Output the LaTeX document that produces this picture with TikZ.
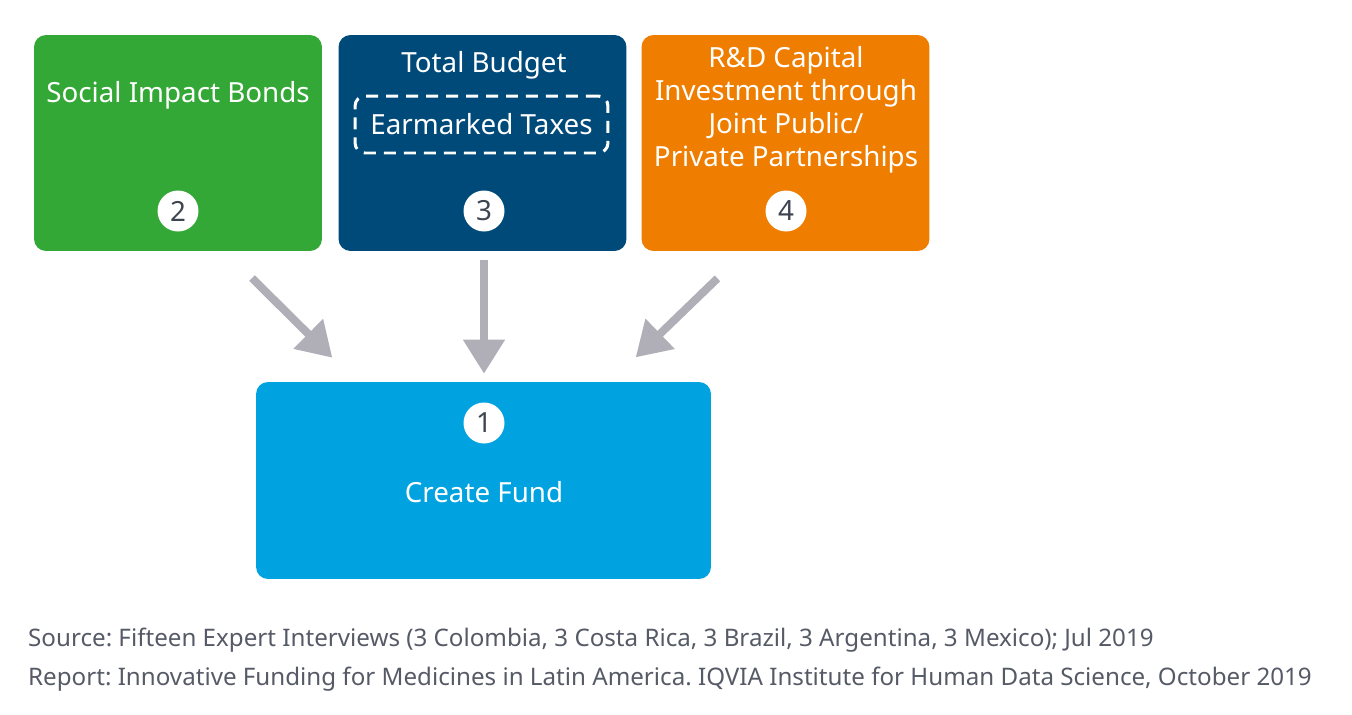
\documentclass[tikz,border=0pt]{standalone}
\usepackage{fontspec}
\setmainfont{Noto Sans}
\frenchspacing
\usetikzlibrary{arrows.meta,calc,positioning}

\definecolor{impactgreen}{HTML}{34A836}
\definecolor{budgetblue}{HTML}{004A7A}
\definecolor{rdorange}{HTML}{EF7D00}
\definecolor{fundcyan}{HTML}{00A3E0}
\definecolor{arrowgray}{HTML}{B0AFB8}
\definecolor{numbergray}{HTML}{3F4550}
\definecolor{sourcegray}{HTML}{555A66}

\begin{document}
\begin{tikzpicture}[x=0.02cm, y=-0.02cm]
        \tikzstyle{box} = [rectangle, rounded corners=0.24cm, minimum width=5.76cm, minimum height=4.32cm, inner sep=0pt]
        \tikzstyle{fund box} = [box, fill=fundcyan, minimum width=9.1cm, minimum height=3.94cm]
        \tikzstyle{label} = [text=white, align=center, font=\fontsize{15.8}{18.8}\selectfont]
        \tikzstyle{number} = [circle, fill=white, minimum size=0.82cm, inner sep=0pt, text=numbergray, font=\fontsize{15.8}{18}\selectfont]
        \tikzstyle{edge} = [draw=arrowgray, line width=0.16cm, -{Triangle[width=0.8cm, length=0.68cm]}]

        \path[use as bounding box] (0,0) rectangle (1352,714);

        \node[box, fill=impactgreen](b2) at(178, 143) {};
        \node[box, fill=budgetblue](b3) at(482.5, 143) {};
        \node[box, fill=rdorange](b4) at(785.5, 143) {};
        \node[fund box](fund) at(483.5, 480.5) {};

        \node[label](t2) at(178, 95) {Social Impact Bonds};
        \node[label](t3) at(484, 65) {Total Budget};
        \node[label, draw=white, line width=0.06cm, dash pattern=on 0.24cm off 0.16cm, rounded corners=0.2cm, minimum width=5.06cm, minimum height=1.14cm](tax) at(481.5, 124.5) {Earmarked Taxes};
        \node[label](t4) at(786, 110) {R\&D Capital\\Investment through\\Joint Public/\\Private Partnerships};
        \node[label](t1) at(484, 492) {Create Fund};

        \node[number](n2) at(178, 211) {2};
        \node[number](n3) at(484, 211) {3};
        \node[number](n4) at(786, 211) {4};
        \node[number](n1) at(484, 423) {1};

        \draw[edge, shorten <=0.76cm, shorten >=0.68cm] ($(b2.south)+(47,0)$) -- ($(fund.north)+(-127,0)$);
        \draw[edge, shorten <=0.18cm, shorten >=0.16cm] (b3.south -| n3) -- (fund.north -| n3);
        \draw[edge, shorten <=0.78cm, shorten >=0.7cm] ($(b4.south)+(-40,0)$) -- ($(fund.north)+(127,0)$);

        \node[anchor=west, text=sourcegray, align=left, font=\fontsize{13.75}{22.2}\selectfont](source) at(22, 660) {Source: Fifteen Expert Interviews (3 Colombia, 3 Costa Rica, 3 Brazil, 3 Argentina, 3 Mexico); Jul 2019\\Report: Innovative Funding for Medicines in Latin America. IQVIA Institute for Human Data Science, October 2019};
    \end{tikzpicture}
\end{document}
